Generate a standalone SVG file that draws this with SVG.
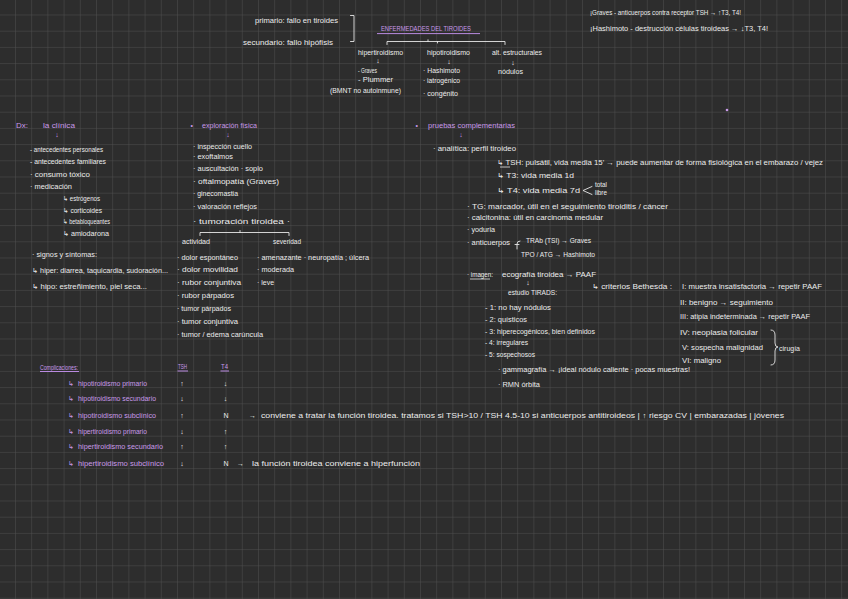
<svg xmlns="http://www.w3.org/2000/svg" width="848" height="599" viewBox="0 0 848 599">
<defs>
<pattern id="grid" x="15" y="14.5" width="16.2" height="16.2" patternUnits="userSpaceOnUse">
<path d="M0,0 H16.2 M0,0 V16.2" fill="none" stroke="#4f4f4f" stroke-width="1"/>
</pattern>
<style>
text{font-family:"Liberation Sans","DejaVu Sans",sans-serif;font-size:7px;fill:#ececec;}
.p{fill:#c99ae9;}
.a{text-anchor:middle;}
.ln{fill:none;stroke:#e6e6e6;stroke-width:0.9;stroke-linecap:round;stroke-linejoin:round;}
.ul{fill:none;stroke:#b98ae0;stroke-width:1;}
.ulw{fill:none;stroke:#e6e6e6;stroke-width:0.8;}
</style>
</defs>
<rect width="848" height="599" fill="#2d2d2d"/>
<rect width="848" height="599" fill="url(#grid)"/>

<g id="tipos-fallo">
<text x="255" y="23.2" textLength="83" lengthAdjust="spacingAndGlyphs">primario: fallo en tiroides</text>
<text x="243" y="44.5" textLength="90" lengthAdjust="spacingAndGlyphs">secundario: fallo hipófisis</text>
</g>
<g id="titulo">
<text class="p" x="381" y="31.2" textLength="90" lengthAdjust="spacingAndGlyphs">ENFERMEDADES DEL TIROIDES</text>
</g>
<g id="hipertiroidismo">
<text x="358" y="54.5" textLength="45" lengthAdjust="spacingAndGlyphs">hipertiroidismo</text>
<text class="a" x="378" y="63.2">↓</text>
<text x="358" y="72.5" textLength="19" lengthAdjust="spacingAndGlyphs">- Graves</text>
<text x="358" y="81.5" textLength="35" lengthAdjust="spacingAndGlyphs">- Plummer</text>
<text x="330" y="92.5" textLength="71" lengthAdjust="spacingAndGlyphs">(BMNT no autoinmune)</text>
</g>
<g id="hipotiroidismo">
<text x="427" y="54.5" textLength="43" lengthAdjust="spacingAndGlyphs">hipotiroidismo</text>
<text class="a" x="449" y="63.5">↓</text>
<text x="423" y="72.5" textLength="37" lengthAdjust="spacingAndGlyphs">· Hashimoto</text>
<text x="423" y="83.2" textLength="37" lengthAdjust="spacingAndGlyphs">· iatrogénico</text>
<text x="423" y="95.5" textLength="35" lengthAdjust="spacingAndGlyphs">· congénito</text>
</g>
<g id="alt-estructurales">
<text x="492" y="54.5" textLength="50" lengthAdjust="spacingAndGlyphs">alt. estructurales</text>
<text class="a" x="513" y="64.5">↓</text>
<text x="498" y="73.5" textLength="25" lengthAdjust="spacingAndGlyphs">nódulos</text>
</g>
<g id="notas-anticuerpos">
<text x="590" y="15.2" textLength="151" lengthAdjust="spacingAndGlyphs">¡Graves - anticuerpos contra receptor TSH → ↑T3, T4!</text>
<text x="590" y="30.5" textLength="178" lengthAdjust="spacingAndGlyphs">¡Hashimoto - destrucción células tiroideas → ↓T3, T4!</text>
</g>
<circle cx="727" cy="110" r="1.3" fill="#c99ae9"/>

<g id="diagnostico-clinica">
<text class="p" x="16" y="127.5" textLength="12" lengthAdjust="spacingAndGlyphs">Dx:</text>
<text class="p" x="43" y="127.5" textLength="32" lengthAdjust="spacingAndGlyphs">la clínica</text>
<text class="p a" x="57" y="136.5">↓</text>
<text x="30" y="151.5" textLength="73" lengthAdjust="spacingAndGlyphs">- antecedentes personales</text>
<text x="30" y="164.2" textLength="76" lengthAdjust="spacingAndGlyphs">- antecedentes familiares</text>
<text x="30" y="176.5" textLength="60" lengthAdjust="spacingAndGlyphs">· consumo tóxico</text>
<text x="30" y="188.5" textLength="42" lengthAdjust="spacingAndGlyphs">· medicación</text>
<text x="63" y="200.5" textLength="37" lengthAdjust="spacingAndGlyphs">↳ estrógenos</text>
<text x="63" y="212.5" textLength="39" lengthAdjust="spacingAndGlyphs">↳ corticoides</text>
<text x="63" y="224.2" textLength="47" lengthAdjust="spacingAndGlyphs">↳ betabloqueantes</text>
<text x="63" y="235.5" textLength="46" lengthAdjust="spacingAndGlyphs">↳ amiodarona</text>
<text x="32" y="256.5" textLength="65" lengthAdjust="spacingAndGlyphs">· signos y síntomas:</text>
<text x="32" y="273.2" textLength="136" lengthAdjust="spacingAndGlyphs">↳ hiper: diarrea, taquicardia, sudoración...</text>
<text x="32" y="289.2" textLength="115" lengthAdjust="spacingAndGlyphs">↳ hipo: estreñimiento, piel seca...</text>
</g>

<g id="exploracion-fisica">
<text class="p" x="190.5" y="127.5">•</text>
<text class="p" x="202" y="127.5" textLength="55" lengthAdjust="spacingAndGlyphs">exploración física</text>
<text class="p a" x="228" y="136.5">↓</text>
<text x="193" y="148.5" textLength="59" lengthAdjust="spacingAndGlyphs">· inspección cuello</text>
<text x="193" y="159.2" textLength="40" lengthAdjust="spacingAndGlyphs">· exoftalmos</text>
<text x="193" y="170.5" textLength="70" lengthAdjust="spacingAndGlyphs">· auscultación · soplo</text>
<text x="193" y="183.5" textLength="86" lengthAdjust="spacingAndGlyphs">· oftalmopatía (Graves)</text>
<text x="193" y="195.5" textLength="45" lengthAdjust="spacingAndGlyphs">· ginecomastia</text>
<text x="193" y="208.5" textLength="64" lengthAdjust="spacingAndGlyphs">· valoración reflejos</text>
<text x="193" y="223.5" textLength="97" lengthAdjust="spacingAndGlyphs">· tumoración tiroidea ·</text>
</g>
<g id="actividad">
<text x="182" y="244.2" textLength="28" lengthAdjust="spacingAndGlyphs">actividad</text>
<text x="177" y="260.2" textLength="61" lengthAdjust="spacingAndGlyphs">· dolor espontáneo</text>
<text x="177" y="271.5" textLength="61" lengthAdjust="spacingAndGlyphs">· dolor movilidad</text>
<text x="177" y="285.2" textLength="64" lengthAdjust="spacingAndGlyphs">· rubor conjuntiva</text>
<text x="177" y="297.5" textLength="57" lengthAdjust="spacingAndGlyphs">· rubor párpados</text>
<text x="177" y="310.5" textLength="54" lengthAdjust="spacingAndGlyphs">· tumor párpados</text>
<text x="177" y="324.2" textLength="61" lengthAdjust="spacingAndGlyphs">· tumor conjuntiva</text>
<text x="177" y="336.5" textLength="86" lengthAdjust="spacingAndGlyphs">· tumor / edema carúncula</text>
</g>
<g id="severidad">
<text x="273" y="244.2" textLength="28" lengthAdjust="spacingAndGlyphs">severidad</text>
<text x="257" y="260.2" textLength="112" lengthAdjust="spacingAndGlyphs">· amenazante · neuropatía ; úlcera</text>
<text x="257" y="271.5" textLength="37" lengthAdjust="spacingAndGlyphs">· moderada</text>
<text x="257" y="284.5" textLength="17" lengthAdjust="spacingAndGlyphs">· leve</text>
</g>

<g id="pruebas-complementarias">
<text class="p" x="415.5" y="127.5">•</text>
<text class="p" x="428" y="127.5" textLength="87" lengthAdjust="spacingAndGlyphs">pruebas complementarias</text>
<text class="p a" x="461" y="136.5">↓</text>
<text x="433" y="151.2" textLength="83" lengthAdjust="spacingAndGlyphs">· analítica: perfil tiroideo</text>
<text x="497" y="164.8" textLength="326" lengthAdjust="spacingAndGlyphs">↳ TSH: pulsátil, vida media 15' → puede aumentar de forma fisiológica en el embarazo / vejez</text>
<text x="497" y="178.2" textLength="77" lengthAdjust="spacingAndGlyphs">↳ T3: vida media 1d</text>
<text x="497" y="192.5" textLength="83" lengthAdjust="spacingAndGlyphs">↳ T4: vida media 7d</text>
<text x="595" y="186.5" textLength="12" lengthAdjust="spacingAndGlyphs">total</text>
<text x="595" y="195.2" textLength="12" lengthAdjust="spacingAndGlyphs">libre</text>
<text x="467" y="208.5" textLength="201" lengthAdjust="spacingAndGlyphs">· TG: marcador, útil en el seguimiento tiroiditis / cáncer</text>
<text x="467" y="219.8" textLength="136" lengthAdjust="spacingAndGlyphs">· calcitonina: útil en carcinoma medular</text>
<text x="467" y="231.8" textLength="28" lengthAdjust="spacingAndGlyphs">· yoduria</text>
<text x="467" y="245.2" textLength="43" lengthAdjust="spacingAndGlyphs">· anticuerpos</text>
<text x="526" y="243.2" textLength="65" lengthAdjust="spacingAndGlyphs">TRAb (TSI) → Graves</text>
<text x="521" y="256.5" textLength="74" lengthAdjust="spacingAndGlyphs">TPO / ATG → Hashimoto</text>
</g>
<g id="imagen">
<text x="467" y="276.5" textLength="26" lengthAdjust="spacingAndGlyphs">· imagen:</text>
<text x="502" y="276.5" textLength="94" lengthAdjust="spacingAndGlyphs">ecografía tiroidea → PAAF</text>
<text class="a" x="528" y="284.5">↓</text>
<text x="498" y="371.5" textLength="192" lengthAdjust="spacingAndGlyphs">· gammagrafía → ¡ideal nódulo caliente · pocas muestras!</text>
<text x="498" y="386.8" textLength="42" lengthAdjust="spacingAndGlyphs">· RMN órbita</text>
</g>
<g id="tirads">
<text x="508" y="294.8" textLength="49" lengthAdjust="spacingAndGlyphs">estudio TIRADS:</text>
<text x="485" y="309.5" textLength="66" lengthAdjust="spacingAndGlyphs">- 1: no hay nódulos</text>
<text x="485" y="321.5" textLength="42" lengthAdjust="spacingAndGlyphs">- 2: quísticos</text>
<text x="485" y="333.5" textLength="110" lengthAdjust="spacingAndGlyphs">- 3: hiperecogénicos, bien definidos</text>
<text x="485" y="345.2" textLength="43" lengthAdjust="spacingAndGlyphs">- 4: irregulares</text>
<text x="485" y="356.5" textLength="50" lengthAdjust="spacingAndGlyphs">- 5: sospechosos</text>
</g>
<g id="bethesda">
<text x="592" y="288.5" textLength="80" lengthAdjust="spacingAndGlyphs">↳ criterios Bethesda :</text>
<text x="682" y="288.5" textLength="140" lengthAdjust="spacingAndGlyphs">I: muestra insatisfactoria → repetir PAAF</text>
<text x="680" y="305.2" textLength="93" lengthAdjust="spacingAndGlyphs">II: benigno → seguimiento</text>
<text x="680" y="319.2" textLength="130" lengthAdjust="spacingAndGlyphs">III: atipia indeterminada → repetir PAAF</text>
<text x="680" y="334.8" textLength="78" lengthAdjust="spacingAndGlyphs">IV: neoplasia folicular</text>
<text x="682" y="350.2" textLength="81" lengthAdjust="spacingAndGlyphs">V: sospecha malignidad</text>
<text x="682" y="363.2" textLength="39" lengthAdjust="spacingAndGlyphs">VI: maligno</text>
<text x="779" y="350.5" textLength="21" lengthAdjust="spacingAndGlyphs">cirugía</text>
</g>

<g id="complicaciones">
<text class="p" x="40" y="370.2" textLength="38" lengthAdjust="spacingAndGlyphs">Complicaciones:</text>
<text class="p" x="178" y="369.2" textLength="9" lengthAdjust="spacingAndGlyphs">TSH</text>
<text class="p" x="221" y="369.2" textLength="7" lengthAdjust="spacingAndGlyphs">T4</text>
<text class="p" x="68" y="385.8">↳</text><text class="p" x="78" y="385.8" textLength="69" lengthAdjust="spacingAndGlyphs">hipotiroidismo primario</text>
<text class="p" x="68" y="400.8">↳</text><text class="p" x="78" y="400.8" textLength="78" lengthAdjust="spacingAndGlyphs">hipotiroidismo secundario</text>
<text class="p" x="68" y="418.2">↳</text><text class="p" x="78" y="418.2" textLength="78" lengthAdjust="spacingAndGlyphs">hipotiroidismo subclínico</text>
<text class="p" x="68" y="433.5">↳</text><text class="p" x="78" y="433.5" textLength="69" lengthAdjust="spacingAndGlyphs">hipertiroidismo primario</text>
<text class="p" x="68" y="449.2">↳</text><text class="p" x="78" y="449.2" textLength="85" lengthAdjust="spacingAndGlyphs">hipertiroidismo secundario</text>
<text class="p" x="68" y="465.8">↳</text><text class="p" x="78" y="465.8" textLength="86" lengthAdjust="spacingAndGlyphs">hipertiroidismo subclínico</text>
<text class="a" x="182" y="385.8">↑</text><text class="a" x="225.5" y="385.8">↓</text>
<text class="a" x="182" y="400.8">↓</text><text class="a" x="225.5" y="400.8">↓</text>
<text class="a" x="182" y="418.2">↑</text><text class="a" x="226" y="418.2">N</text>
<text class="a" x="182" y="433.5">↓</text><text class="a" x="225.5" y="433.5">↑</text>
<text class="a" x="182" y="449.2">↑</text><text class="a" x="225.5" y="449.2">↑</text>
<text class="a" x="182" y="465.8">↓</text><text class="a" x="226" y="465.8">N</text>
<text x="249" y="418.2">→</text>
<text x="261" y="418.2" textLength="523" lengthAdjust="spacingAndGlyphs">conviene a tratar la función tiroidea. tratamos si TSH&gt;10 / TSH 4.5-10 si anticuerpos antitiroideos | ↑ riesgo CV | embarazadas | jóvenes</text>
<text x="237" y="465.8">→</text>
<text x="252" y="465.8" textLength="168" lengthAdjust="spacingAndGlyphs">la función tiroidea conviene a hiperfunción</text>
</g>

<g id="connectors">
<path class="ln" d="M350.5,15.5 H354 V41.5 H350.5"/>
<path class="ul" d="M377,33.6 H480" stroke-width="1.3"/>
<path class="ln" d="M387,44.5 V41.5 H505 V44.5 M428,41.5 V39.8 M437.5,41.5 V43"/>
<path class="ln" d="M200,235.5 V232.5 H289 V235.5 M240,232.5 V230.5"/>
<path class="ln" d="M592,186.5 L583,190.5 L592,194.5"/>
<path class="ln" d="M520,241 Q517,241 517,244 V249 M515,244.5 H519"/>
<path class="ln" d="M771,330 Q775,330 775,335 V343 Q775,347 778,347 Q775,347 775,351 V360 Q775,365 771,365"/>
<path class="ulw" d="M500,167 H510"/>
<path class="ulw" d="M470,279 H490"/>
<path class="ul" d="M40,371.5 H79"/>
<path class="ul" d="M177.5,371 H188"/>
<path class="ul" d="M220.5,371 H229"/>
</g>
</svg>
